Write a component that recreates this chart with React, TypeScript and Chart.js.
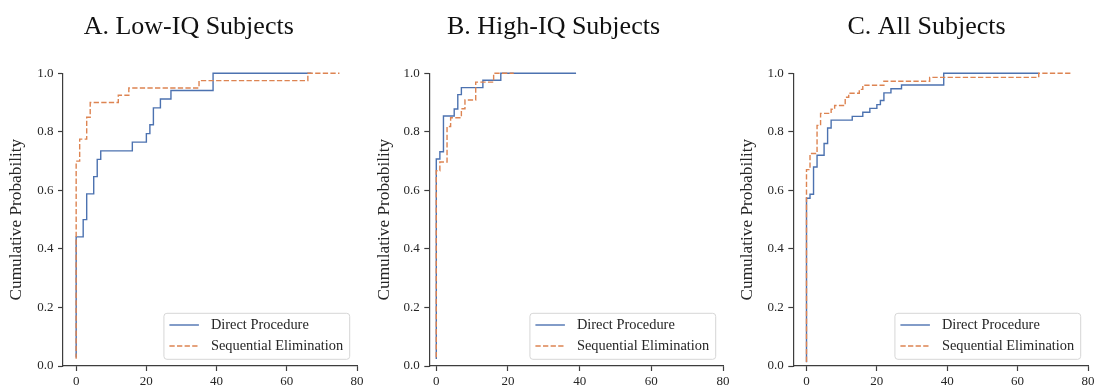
import React, { useEffect, useRef } from 'react';
import { Chart, registerables } from 'chart.js';

Chart.register(...registerables);

// ---------- data ----------
const X_TICKS = [0, 20, 40, 60, 80];
const Y_TICKS = [0, 0.2, 0.4, 0.6, 0.8, 1.0];
const SERIES_NAMES = ['Direct Procedure', 'Sequential Elimination'];
const PANEL_TITLES = ['A. Low-IQ Subjects', 'B. High-IQ Subjects', 'C. All Subjects'];
const Y_LABEL = 'Cumulative Probability';

// Panel A (low IQ): step positions and cumulative levels
const lowDirectX = [0, 0, 2, 3, 5, 6, 7, 16, 20, 21, 22, 24, 27, 39, 67];
const lowDirectY = [0.029, 0.441, 0.5, 0.588, 0.647, 0.706, 0.735, 0.765, 0.794, 0.824, 0.882, 0.912, 0.941, 1.0, 1.0];
const lowSeqX = [0, 0, 1, 3, 4, 12, 15, 35, 66, 75];
const lowSeqY = [0.025, 0.7, 0.775, 0.85, 0.9, 0.925, 0.95, 0.975, 1.0, 1.0];

// Panel B (high IQ)
const highDirectX = [0, 0, 1, 2, 5, 6, 7, 13, 18, 39];
const highDirectY = [0.024, 0.707, 0.732, 0.854, 0.878, 0.927, 0.951, 0.976, 1.0, 1.0];
const highSeqX = [0, 0, 1, 3, 4, 7, 8, 11, 16, 21.6];
const highSeqY = [0.03, 0.667, 0.697, 0.818, 0.848, 0.879, 0.909, 0.97, 1.0, 1.0];

// Panel C (all subjects)
const allDirectX = [0, 0, 1, 2, 3, 5, 6, 7, 13, 16, 18, 20, 21, 22, 24, 27, 39, 66];
const allDirectY = [0.013, 0.573, 0.587, 0.68, 0.72, 0.76, 0.813, 0.84, 0.853, 0.867, 0.88, 0.893, 0.907, 0.933, 0.947, 0.96, 1.0, 1.0];
const allSeqX = [0, 0, 1, 3, 4, 7, 8, 11, 12, 15, 16, 22, 35, 66, 75];
const allSeqY = [0.014, 0.671, 0.726, 0.822, 0.863, 0.877, 0.89, 0.918, 0.932, 0.945, 0.959, 0.973, 0.986, 1.0, 1.0];

const X_MINS = [-3.75, -1.95, -3.75];
const X_MAX = 80;

// ---------- style / layout ----------
const FONT = '"Liberation Serif", "Times New Roman", Times, serif';
const TEXT = '#262626';
const AXIS = '#3d3d3d';
const BLUE = '#4C72B0';
const ORANGE = '#DD8452';
const H = 385;
const CHART_TOP = 73.3;
const CHART_BOTTOM = 366;
const YTITLE_SIZE = 17.3;

const LAYOUT = [
  { canvasLeft: 0, canvasWidth: 366, chartL: 63, chartR: 358.3, titleX: 188.7, yTitleX: 16.8 },
  { canvasLeft: 366, canvasWidth: 366, chartL: 429.3, chartR: 723.3, titleX: 553.5, yTitleX: 384.5 },
  { canvasLeft: 732, canvasWidth: 365, chartL: 793.3, chartR: 1089, titleX: 926.5, yTitleX: 747.8 },
];

const SERIES = [
  { dx: lowDirectX, dy: lowDirectY, sx: lowSeqX, sy: lowSeqY },
  { dx: highDirectX, dy: highDirectY, sx: highSeqX, sy: highSeqY },
  { dx: allDirectX, dy: allDirectY, sx: allSeqX, sy: allSeqY },
];

function toPoints(xs: number[], ys: number[]) {
  return xs.map((x, i) => ({ x, y: ys[i] }));
}

function makeTitlePlugin(text: string, x: number) {
  return {
    id: 'panelTitle',
    afterDraw(chart: any) {
      const ctx = chart.ctx;
      ctx.save();
      ctx.font = `26px ${FONT}`;
      ctx.fillStyle = '#111111';
      ctx.textAlign = 'center';
      ctx.textBaseline = 'alphabetic';
      ctx.fillText(text, x, 33.5);
      ctx.restore();
    },
  };
}

const legendPlugin = {
  id: 'boxLegend',
  afterDatasetsDraw(chart: any) {
    const ctx = chart.ctx;
    const area = chart.chartArea;
    ctx.save();
    ctx.font = `14.4px ${FONT}`;
    const tw = Math.max(...SERIES_NAMES.map((n) => ctx.measureText(n).width));
    const w = 47 + tw + 6.5;
    const h = 46;
    const right = area.right - 7.3;
    const bottom = area.bottom - 6.7;
    const left = right - w;
    const top = bottom - h;
    const r = 3;
    ctx.beginPath();
    ctx.moveTo(left + r, top);
    ctx.lineTo(right - r, top);
    ctx.arcTo(right, top, right, top + r, r);
    ctx.lineTo(right, bottom - r);
    ctx.arcTo(right, bottom, right - r, bottom, r);
    ctx.lineTo(left + r, bottom);
    ctx.arcTo(left, bottom, left, bottom - r, r);
    ctx.lineTo(left, top + r);
    ctx.arcTo(left, top, left + r, top, r);
    ctx.closePath();
    ctx.fillStyle = 'rgba(255,255,255,0.8)';
    ctx.fill();
    ctx.strokeStyle = '#d6d6d6';
    ctx.lineWidth = 1;
    ctx.stroke();

    const rows = [top + 11.7, top + 32.7];
    const colors = [BLUE, ORANGE];
    rows.forEach((yy, i) => {
      ctx.beginPath();
      ctx.strokeStyle = colors[i];
      ctx.lineWidth = 1.4;
      ctx.setLineDash(i === 1 ? [5.3, 2.3] : []);
      ctx.moveTo(left + 5.5, yy);
      ctx.lineTo(left + 35, yy);
      ctx.stroke();
      ctx.setLineDash([]);
      ctx.fillStyle = TEXT;
      ctx.textAlign = 'left';
      ctx.textBaseline = 'middle';
      ctx.fillText(SERIES_NAMES[i], left + 47, yy);
    });
    ctx.restore();
  },
};

function Panel({ idx }: { idx: number }) {
  const ref = useRef<HTMLCanvasElement>(null);
  const L = LAYOUT[idx];
  useEffect(() => {
    if (!ref.current) return;
    const s = SERIES[idx];
    const lh = YTITLE_SIZE * 1.2;
    const pl = L.yTitleX - L.canvasLeft - lh / 2;
    const yAxisW = L.chartL - L.canvasLeft - pl;
    const pr = L.canvasLeft + L.canvasWidth - L.chartR;
    const chart = new Chart(ref.current, {
      type: 'line',
      data: {
        datasets: [
          {
            label: SERIES_NAMES[0],
            data: toPoints(s.dx, s.dy),
            borderColor: BLUE,
            backgroundColor: BLUE,
            borderWidth: 1.4,
            pointRadius: 0,
            stepped: true,
            fill: false,
            order: 1,
            clip: false as any,
            borderJoinStyle: 'miter',
          },
          {
            label: SERIES_NAMES[1],
            data: toPoints(s.sx, s.sy),
            borderColor: ORANGE,
            backgroundColor: ORANGE,
            borderWidth: 1.4,
            borderDash: [5.3, 2.3],
            pointRadius: 0,
            stepped: true,
            fill: false,
            order: 0,
            clip: false as any,
            borderJoinStyle: 'miter',
          },
        ],
      },
      options: {
        responsive: false,
        animation: false,
        devicePixelRatio: 1,
        layout: { padding: { left: pl, right: pr, top: CHART_TOP, bottom: 0 } },
        plugins: {
          legend: { display: false },
          tooltip: { enabled: false },
          title: { display: false },
        },
        scales: {
          x: {
            type: 'linear',
            min: X_MINS[idx],
            max: X_MAX,
            afterBuildTicks: (sc: any) => {
              sc.ticks = X_TICKS.map((v) => ({ value: v }));
            },
            afterFit: (sc: any) => {
              sc.height = H - CHART_BOTTOM;
            },
            ticks: {
              color: TEXT,
              font: { family: FONT, size: 13 },
              padding: 2.5,
              maxRotation: 0,
              autoSkip: false,
              callback: (v: any) => String(v),
            },
            grid: { display: true, drawOnChartArea: false, drawTicks: true, tickLength: 5, tickColor: AXIS, tickWidth: 1.2 },
            border: { display: true, color: AXIS, width: 1.2 },
          },
          y: {
            type: 'linear',
            min: 0,
            max: 1,
            afterBuildTicks: (sc: any) => {
              sc.ticks = Y_TICKS.map((v) => ({ value: v }));
            },
            afterFit: (sc: any) => {
              sc.width = yAxisW;
            },
            ticks: {
              color: TEXT,
              font: { family: FONT, size: 13 },
              padding: 4.5,
              autoSkip: false,
              callback: (v: any) => Number(v).toFixed(1),
            },
            grid: { display: true, drawOnChartArea: false, drawTicks: true, tickLength: 5, tickColor: AXIS, tickWidth: 1.2 },
            border: { display: true, color: AXIS, width: 1.2 },
            title: {
              display: true,
              text: Y_LABEL,
              color: TEXT,
              font: { family: FONT, size: YTITLE_SIZE },
              padding: 0,
            },
          },
        },
      },
      plugins: [makeTitlePlugin(PANEL_TITLES[idx], L.titleX - L.canvasLeft), legendPlugin],
    } as any);
    return () => chart.destroy();
  }, []);
  return (
    <canvas
      ref={ref}
      width={L.canvasWidth}
      height={H}
      style={{ position: 'absolute', left: L.canvasLeft, top: 0, width: L.canvasWidth, height: H }}
    />
  );
}

export default function App() {
  return (
    <div style={{ position: 'absolute', left: 0, top: 0, width: 1097, height: H, background: '#ffffff' }}>
      {[0, 1, 2].map((i) => (
        <Panel key={i} idx={i} />
      ))}
    </div>
  );
}
